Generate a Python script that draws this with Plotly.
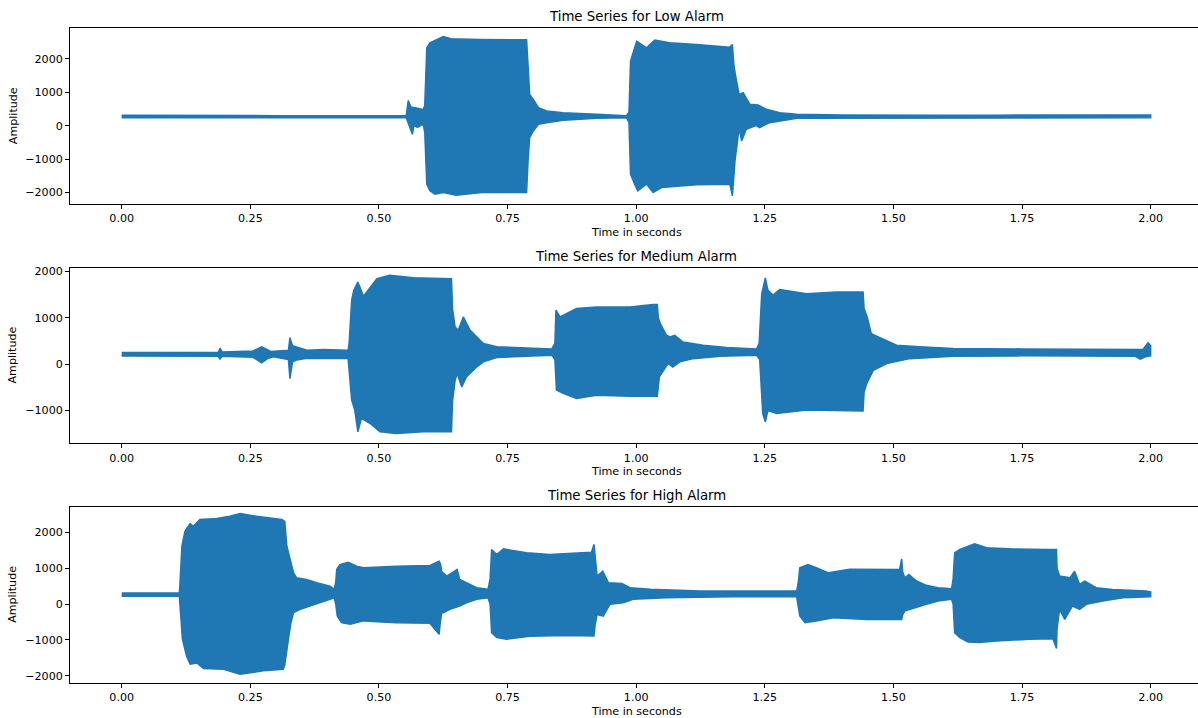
import plotly.graph_objects as go

# ---------------- data: amplitude envelopes ----------------
# Low alarm
low_t_up = [0.0, 0.05, 0.10, 0.20, 0.30, 0.40, 0.50, 0.553, 0.557, 0.562, 0.575, 0.586, 0.589, 0.593,
            0.599, 0.609, 0.625, 0.640, 0.696, 0.787, 0.790, 0.793, 0.800, 0.810, 0.826, 0.835, 0.858,
            0.923, 0.981, 0.986, 0.989, 1.001, 1.020, 1.036, 1.065, 1.117, 1.182, 1.187, 1.190, 1.194,
            1.200, 1.208, 1.221, 1.237, 1.253, 1.279, 1.312, 1.40, 1.50, 1.60, 1.70, 1.80, 1.90, 1.95, 2.0]
low_v_up = [310, 305, 300, 305, 300, 295, 300, 300, 755, 560, 520, 480, 600, 2330,
            2480, 2560, 2670, 2600, 2580, 2570, 1500, 935, 785, 540, 440, 420, 390,
            340, 300, 400, 1930, 2530, 2330, 2560, 2480, 2430, 2350, 2430, 1800, 1430,
            935, 985, 640, 620, 490, 390, 340, 320, 310, 310, 315, 320, 330, 340, 320]
low_t_lo = [0.0, 0.10, 0.20, 0.30, 0.40, 0.50, 0.553, 0.557, 0.562, 0.565, 0.568, 0.575, 0.586, 0.589,
            0.593, 0.599, 0.609, 0.625, 0.650, 0.700, 0.787, 0.790, 0.793, 0.800, 0.810, 0.826, 0.858,
            0.923, 0.981, 0.986, 0.989, 0.997, 1.003, 1.020, 1.033, 1.050, 1.117, 1.182, 1.187, 1.190,
            1.192, 1.198, 1.200, 1.205, 1.214, 1.233, 1.240, 1.259, 1.292, 1.312, 1.40, 1.60, 1.80, 2.0]
low_v_lo = [235, 240, 235, 240, 235, 235, 235, 50, -150, -260, 0, -50, 50, -200,
            -1750, -1950, -2050, -2000, -2080, -2000, -2000, -1000, -360, -160, 40, 90, 160,
            220, 240, 100, -1450, -1750, -1950, -1750, -2000, -1850, -1770, -1750, -2100, -1500,
            -1055, -300, -80, -460, -110, 0, -60, 90, 170, 220, 235, 235, 230, 235]

# Medium alarm
med_t_up = [0.0, 0.10, 0.188, 0.191, 0.195, 0.21, 0.255, 0.272, 0.290, 0.324, 0.327, 0.332, 0.340, 0.36,
            0.392, 0.440, 0.442, 0.447, 0.451, 0.459, 0.470, 0.483, 0.496, 0.521, 0.567, 0.641, 0.643,
            0.648, 0.654, 0.664, 0.677, 0.690, 0.703, 0.729, 0.794, 0.836, 0.842, 0.844, 0.852, 0.884,
            0.923, 0.988, 1.033, 1.041, 1.043, 1.047, 1.059, 1.066, 1.075, 1.091, 1.130, 1.176, 1.234,
            1.239, 1.244, 1.248, 1.251, 1.256, 1.266, 1.279, 1.331, 1.389, 1.441, 1.443, 1.449, 1.457,
            1.480, 1.506, 1.551, 1.616, 1.75, 1.85, 1.95, 1.985, 1.995, 2.0]
med_v_up = [255, 260, 260, 345, 265, 270, 285, 373, 275, 300, 573, 400, 373, 300,
            320, 300, 450, 1380, 1595, 1775, 1465, 1665, 1845, 1920, 1865, 1845, 1200,
            800, 735, 1020, 735, 590, 445, 375, 350, 330, 450, 1165, 1020, 1200,
            1235, 1235, 1290, 1290, 1000, 875, 625, 590, 625, 480, 410, 360, 330,
            450, 1520, 1740, 1865, 1600, 1490, 1610, 1520, 1560, 1560, 1200, 1020, 660,
            550, 410, 375, 340, 330, 330, 330, 320, 466, 400]
med_t_lo = [0.0, 0.188, 0.191, 0.195, 0.255, 0.272, 0.285, 0.295, 0.324, 0.327, 0.332, 0.340, 0.36,
            0.440, 0.442, 0.447, 0.453, 0.459, 0.466, 0.483, 0.502, 0.534, 0.586, 0.641, 0.643, 0.648,
            0.652, 0.661, 0.670, 0.690, 0.703, 0.729, 0.836, 0.842, 0.845, 0.858, 0.884, 0.923, 0.988,
            1.041, 1.045, 1.062, 1.071, 1.085, 1.111, 1.163, 1.234, 1.240, 1.246, 1.251, 1.256, 1.273,
            1.331, 1.389, 1.441, 1.443, 1.448, 1.461, 1.487, 1.532, 1.616, 1.75, 1.85, 1.97, 1.98,
            1.99, 2.0]
med_v_lo = [175, 170, 108, 170, 150, 30, 130, 160, 100, -310, 50, 90, 130,
            125, 0, -775, -990, -1460, -1170, -1280, -1460, -1495, -1460, -1460, -800, -350,
            -200, -490, -275, -60, 50, 145, 195, 100, -560, -630, -740, -670, -690,
            -690, -275, 15, -60, 50, 120, 170, 195, 100, -1065, -1245, -1000, -1065,
            -990, -1000, -1010, -600, -420, -130, 15, 120, 170, 180, 175, 170, 108,
            160, 180]

# High alarm
high_t_up = [0.0, 0.05, 0.112, 0.113, 0.117, 0.123, 0.133, 0.139, 0.152, 0.185, 0.210, 0.230, 0.262,
             0.311, 0.317, 0.321, 0.327, 0.334, 0.340, 0.359, 0.379, 0.405, 0.413, 0.416, 0.418, 0.424,
             0.440, 0.457, 0.470, 0.534, 0.599, 0.617, 0.620, 0.622, 0.632, 0.652, 0.657, 0.677, 0.690,
             0.712, 0.716, 0.719, 0.729, 0.742, 0.768, 0.787, 0.832, 0.884, 0.913, 0.918, 0.920, 0.924,
             0.935, 0.946, 0.972, 0.988, 1.027, 1.124, 1.312, 1.315, 1.318, 1.334, 1.350, 1.373, 1.415,
             1.512, 1.516, 1.518, 1.522, 1.530, 1.545, 1.564, 1.587, 1.613, 1.616, 1.619, 1.629, 1.645,
             1.658, 1.681, 1.733, 1.797, 1.817, 1.818, 1.823, 1.843, 1.852, 1.862, 1.872, 1.894, 1.926,
             1.991, 2.0]
high_v_up = [310, 305, 305, 500, 1610, 2030, 2240, 2165, 2355, 2380, 2445, 2520, 2445,
             2355, 2300, 1610, 1240, 870, 730, 685, 595, 500, 410, 600, 965, 1100,
             1165, 1055, 1010, 1055, 1075, 1190, 1100, 900, 780, 965, 685, 545, 455,
             410, 700, 1520, 1380, 1535, 1470, 1425, 1380, 1425, 1445, 1660, 1300, 780,
             915, 595, 575, 455, 410, 360, 360, 600, 1010, 1100, 1010, 870, 965,
             963, 1260, 900, 730, 825, 640, 520, 455, 425, 700, 1425, 1520, 1610,
             1675, 1565, 1535, 1520, 1520, 1000, 780, 730, 915, 545, 640, 455, 405,
             360, 340]
high_t_lo = [0.0, 0.112, 0.113, 0.118, 0.126, 0.133, 0.146, 0.159, 0.198, 0.230, 0.275, 0.314, 0.317,
             0.324, 0.329, 0.334, 0.347, 0.366, 0.385, 0.405, 0.413, 0.416, 0.419, 0.427, 0.444, 0.470,
             0.534, 0.599, 0.617, 0.619, 0.622, 0.625, 0.638, 0.657, 0.670, 0.690, 0.712, 0.716, 0.719,
             0.729, 0.748, 0.793, 0.865, 0.918, 0.920, 0.924, 0.936, 0.949, 0.975, 0.994, 1.059, 1.189,
             1.312, 1.315, 1.318, 1.328, 1.350, 1.383, 1.448, 1.516, 1.518, 1.522, 1.545, 1.564, 1.587,
             1.613, 1.616, 1.619, 1.629, 1.645, 1.666, 1.700, 1.765, 1.810, 1.817, 1.818, 1.823, 1.833,
             1.848, 1.862, 1.875, 1.907, 1.946, 2.0]
high_v_lo = [215, 215, 0, -980, -1445, -1675, -1640, -1795, -1815, -1955, -1860, -1815, -1700,
             -980, -520, -240, -150, -55, 35, 130, 175, 0, -335, -520, -565, -470,
             -520, -535, -845, -550, -240, -240, -150, -55, 35, 130, 175, 0, -795,
             -935, -980, -900, -880, -890, -600, -290, -335, -10, 35, 130, 175, 200,
             200, 0, -335, -520, -470, -380, -430, -430, -300, -195, -100, -10, 85,
             130, 0, -795, -935, -1055, -1075, -1030, -980, -970, -1240, -700, -150, -425,
             -55, -150, -10, 85, 175, 200]

titles = ["Time Series for Low Alarm", "Time Series for Medium Alarm", "Time Series for High Alarm"]
x_ticks = [0.0, 0.25, 0.5, 0.75, 1.0, 1.25, 1.5, 1.75, 2.0]
y_ticks = [[-2000, -1000, 0, 1000, 2000], [-1000, 0, 1000, 2000], [-2000, -1000, 0, 1000, 2000]]
y_ranges = [[-2349, 2916], [-1711, 2086], [-2194, 2705]]

series = [(low_t_up, low_v_up, low_t_lo, low_v_lo),
          (med_t_up, med_v_up, med_t_lo, med_v_lo),
          (high_t_up, high_v_up, high_t_lo, high_v_lo)]

# ---------------- layout geometry (pixels) ----------------
W, H = 1198, 718
ML = 70
PW = W - ML
axes_px = [(26.3, 202.7), (266.3, 442.7), (506.3, 682.7)]
xlabel_py = [231, 471, 711]
title_py = [15, 255, 495]

def px2x(px):
    return (px - ML) / PW

def py2y(py):
    return 1 - py / H

BLUE = "#1f77b4"
FONT = "DejaVu Sans"

fig = go.Figure()
annotations = []
for i, (tu, vu, tl, vl) in enumerate(series):
    ax = "" if i == 0 else str(i + 1)
    fig.add_trace(go.Scatter(
        x=list(tu) + list(tl)[::-1],
        y=list(vu) + list(vl)[::-1],
        mode="lines", fill="toself", fillcolor=BLUE,
        line=dict(color=BLUE, width=1.5),
        xaxis="x" + ax, yaxis="y" + ax, showlegend=False, hoverinfo="skip",
    ))
    top, bot = axes_px[i]
    dom = [py2y(bot), py2y(top)]
    fig.layout["xaxis" + ax] = dict(
        domain=[0, 1], anchor="y" + ax, range=[-0.1005, 2.092],
        tickvals=x_ticks, ticktext=["%.2f" % v for v in x_ticks],
        ticks="outside", ticklen=4, tickwidth=1, tickcolor="black",
        showline=True, linecolor="black", linewidth=1, mirror=True,
        showgrid=False, zeroline=False,
        tickfont=dict(family=FONT, size=11.1, color="black"),
    )
    fig.layout["yaxis" + ax] = dict(
        domain=dom, anchor="x" + ax, range=y_ranges[i],
        tickvals=y_ticks[i],
        ticks="outside", ticklen=4, tickwidth=1, tickcolor="black",
        showline=True, linecolor="black", linewidth=1, mirror=False,
        showgrid=False, zeroline=False,
        tickfont=dict(family=FONT, size=11.1, color="black"),
    )
    xc = px2x(121.7 + 514.6)
    annotations.append(dict(text=titles[i], xref="paper", yref="paper", x=xc, y=py2y(title_py[i]),
                            xanchor="center", yanchor="middle", showarrow=False,
                            font=dict(family=FONT, size=13.3, color="black")))
    annotations.append(dict(text="Time in seconds", xref="paper", yref="paper", x=xc, y=py2y(xlabel_py[i]),
                            xanchor="center", yanchor="middle", showarrow=False,
                            font=dict(family=FONT, size=11.1, color="black")))
    annotations.append(dict(text="Amplitude", xref="paper", yref="paper", x=px2x(13),
                            y=py2y((top + bot) / 2), textangle=-90,
                            xanchor="center", yanchor="middle", showarrow=False,
                            font=dict(family=FONT, size=11.1, color="black")))

fig.update_layout(
    width=W, height=H, margin=dict(l=ML, r=0, t=0, b=0),
    paper_bgcolor="white", plot_bgcolor="white",
    annotations=annotations, showlegend=False,
)

fig.write_html("out.html", config={"displayModeBar": False},
               post_script="document.body.style.margin='0';document.body.style.overflow='hidden';")
